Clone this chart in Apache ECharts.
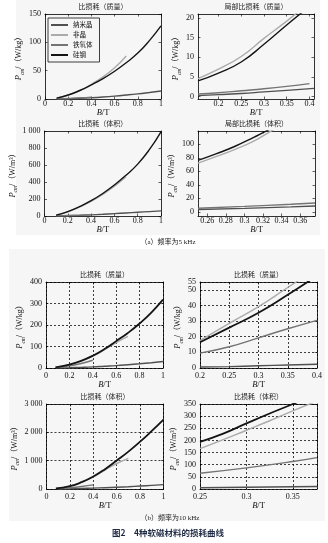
<!DOCTYPE html>
<html>
<head>
<meta charset="utf-8">
<script src="https://cdn.jsdelivr.net/npm/echarts@6/dist/echarts.min.js"></script>
<style>
  html, body { margin: 0; padding: 0; background: #fff; }
  #chart { width: 328px; height: 543px; }
</style>
</head>
<body>
<div id="chart"></div>
<script>
// Common flux-density grids (T)
const B_full = [0.1, 0.2, 0.3, 0.4, 0.5, 0.6, 0.7, 0.8, 0.9, 1.0];
const B_amorph = [0.1, 0.2, 0.3, 0.4, 0.5, 0.6, 0.7];
const B_ferrite = [0.1, 0.2, 0.3, 0.4];

// (a) 5 kHz, loss per mass, full range
const a1_nano = [0.15, 0.55, 1.2, 2.2, 3.5, 5.1, 7.0, 9.1, 11.5, 14];
const a1_amorph = [1.5, 7, 15, 26, 39, 55, 76];
const a1_ferrite = [0.3, 0.9, 1.9, 3.3];
const a1_si = [1.5, 7, 15, 25, 36, 49, 64, 81, 103, 129];

// (a) 5 kHz, loss per mass, 0.155–0.41 T
const a2_B_nano = [0.155, 0.2, 0.25, 0.3, 0.35, 0.41];
const a2_nano = [0.3, 0.5, 0.8, 1.2, 1.6, 2.1];
const a2_B_amorph = [0.155, 0.2, 0.25, 0.3, 0.35, 0.38];
const a2_amorph = [4.6, 7.0, 10.2, 14.8, 19.2, 22.0];
const a2_B_ferrite = [0.155, 0.2, 0.25, 0.3, 0.35, 0.4];
const a2_ferrite = [0.7, 1.0, 1.5, 2.0, 2.6, 3.3];
const a2_B_si = [0.155, 0.2, 0.25, 0.3, 0.35, 0.39];
const a2_si = [4.0, 6.0, 8.8, 13.3, 18.2, 22.0];

// (a) 5 kHz, loss per volume, full range
const a3_nano = [1, 3.5, 7.5, 13, 20, 28, 36, 44, 52, 60];
const a3_amorph = [10, 50, 105, 172, 255, 350, 462];
const a3_ferrite = [2, 6, 10, 15];
const a3_si = [10, 52, 110, 180, 265, 365, 480, 610, 780, 990];

// (a) 5 kHz, loss per volume, 0.25–0.376 T
const a4_B_low = [0.25, 0.3, 0.35, 0.376];
const a4_nano = [3.5, 5.3, 7.5, 8.8];
const a4_B_amorph = [0.25, 0.27, 0.29, 0.31, 0.33, 0.34];
const a4_amorph = [72, 82, 92.5, 104.5, 120.5, 128];
const a4_ferrite = [5.5, 8.2, 11.3, 13.2];
const a4_B_si = [0.25, 0.27, 0.29, 0.31, 0.32, 0.33];
const a4_si = [76, 86, 97, 110, 117, 124];

// (b) 10 kHz, loss per mass, full range
const b1_B_si = [0.08, 0.2, 0.3, 0.4, 0.5, 0.6, 0.7, 0.8, 0.9, 1.0];
const b1_si = [3, 16, 33, 57, 88, 125, 163, 207, 258, 318];
const b1_amorph = [4, 16, 32, 55, 85, 118, 147];
const b1_ferrite = [2.5, 10, 21, 36];
const b1_nano = [0.5, 1.5, 3, 5, 8, 11, 15, 19.5, 24.5, 30];

// (b) 10 kHz, loss per mass, 0.2–0.4 T
const b2_B = [0.2, 0.25, 0.3, 0.35, 0.4];
const b2_B_amorph = [0.2, 0.25, 0.3, 0.35, 0.375];
const b2_amorph = [17.5, 28.5, 39.2, 51.5, 57.5];
const b2_si = [16.5, 25.8, 35.3, 46.8, 59];
const b2_ferrite = [9.5, 13.6, 19.3, 25.1, 30.5];
const b2_nano = [0.6, 0.9, 1.4, 1.9, 2.4];

// (b) 10 kHz, loss per volume, full range
const b3_si = [20, 100, 240, 440, 700, 1005, 1320, 1670, 2050, 2450];
const b3_amorph = [25, 100, 235, 430, 670, 900, 1080];
const b3_ferrite = [10, 45, 90, 145];
const b3_nano = [3, 10, 20, 32, 45, 62, 82, 105, 128, 155];

// (b) 10 kHz, loss per volume, 0.25–0.376 T
const b4_B_si = [0.25, 0.275, 0.3, 0.325, 0.35, 0.36];
const b4_si = [194, 228, 270, 311, 350, 367];
const b4_B_amorph = [0.25, 0.275, 0.3, 0.325, 0.35, 0.376];
const b4_amorph = [166, 203, 242, 281, 322, 362];
const b4_B_low = [0.25, 0.3, 0.35, 0.376];
const b4_ferrite = [65, 87, 113, 129];
const b4_nano = [5, 7, 9, 10];

// Text
const materials = ['纳米晶', '非晶', '铁氧体', '硅钢'];
const titles = ['比损耗（质量）', '局部比损耗（质量）', '比损耗（体积）', '局部比损耗（体积）',
                '比损耗（质量）', '比损耗（质量）', '比损耗（体积）', '比损耗（体积）'];
const captionA = '（a）频率为5 kHz';
const captionB = '（b）频率为10 kHz';
const figCaption = '图2　4种软磁材料的损耗曲线';

const SERIF = '"Liberation Serif","Noto Sans CJK SC",serif';
const CJK = '"Noto Sans CJK SC",sans-serif';
const colors = { '纳米晶': '#505050', '非晶': '#ababab', '铁氧体': '#747474', '硅钢': '#141414' };

const zip = (xs, ys) => xs.map((x, i) => [x, ys[i]]);

// Plot panels: layout + axis ranges; curves are listed in drawing order
const panels = [
  { g: [45, 14, 116, 85], x: [0, 1, 0.2, 1, 1], y: [0, 150, 50, 1, 1], unit: 'kg', dashed: false, yGap: 14,
    s: [['纳米晶', B_full, a1_nano], ['非晶', B_amorph, a1_amorph], ['铁氧体', B_ferrite, a1_ferrite], ['硅钢', B_full, a1_si]] },
  { g: [198, 14, 116, 85], x: [0.155, 0.41, 0.05, 0, 0], y: [-0.6, 21, 5, 0, 0], unit: 'kg', dashed: false, yGap: 9.5,
    s: [['纳米晶', a2_B_nano, a2_nano], ['非晶', a2_B_amorph, a2_amorph], ['铁氧体', a2_B_ferrite, a2_ferrite], ['硅钢', a2_B_si, a2_si]] },
  { g: [44.5, 131, 116.5, 85], x: [0, 1, 0.2, 1, 1], y: [0, 1000, 200, 1, 1], unit: 'm3', dashed: false, yGap: 14.5,
    s: [['纳米晶', B_full, a3_nano], ['非晶', B_amorph, a3_amorph], ['铁氧体', B_ferrite, a3_ferrite], ['硅钢', B_full, a3_si]] },
  { g: [198, 131, 117, 85], x: [0.25, 0.376, 0.02, 0, 0], y: [-6, 119.5, 20, 0, 0], unit: 'm3', dashed: false, yGap: 9.5,
    s: [['纳米晶', a4_B_low, a4_nano], ['非晶', a4_B_amorph, a4_amorph], ['铁氧体', a4_B_low, a4_ferrite], ['硅钢', a4_B_si, a4_si]] },
  { g: [46, 282, 117, 86], x: [0, 1, 0.2, 1, 1], y: [0, 400, 100, 1, 1], unit: 'kg', dashed: true, yGap: 18,
    s: [['纳米晶', B_full, b1_nano], ['非晶', B_amorph, b1_amorph], ['铁氧体', B_ferrite, b1_ferrite], ['硅钢', b1_B_si, b1_si]] },
  { g: [200, 282, 117, 86], x: [0.2, 0.4, 0.05, 1, 1], y: [0, 55, 10, 1, 1], unit: 'kg', dashed: true, yGap: 14,
    s: [['纳米晶', b2_B, b2_nano], ['非晶', b2_B_amorph, b2_amorph], ['铁氧体', b2_B, b2_ferrite], ['硅钢', b2_B, b2_si]] },
  { g: [46.5, 404, 117, 85], x: [0, 1, 0.2, 1, 1], y: [0, 3000, 1000, 1, 1], unit: 'm3', dashed: true, yGap: 18.5,
    s: [['纳米晶', B_full, b3_nano], ['非晶', B_amorph, b3_amorph], ['铁氧体', B_ferrite, b3_ferrite], ['硅钢', b1_B_si, b3_si]] },
  { g: [200, 404, 117, 85], x: [0.25, 0.376, 0.05, 1, 0], y: [0, 350, 50, 1, 1], unit: 'm3', dashed: true, yGap: 14,
    s: [['纳米晶', b4_B_low, b4_nano], ['非晶', b4_B_amorph, b4_amorph], ['铁氧体', b4_B_low, b4_ferrite], ['硅钢', b4_B_si, b4_si]] }
];

const yFormatter = v => {
  if (Math.abs(v) >= 1000) {
    return Math.floor(v / 1000) + ' ' + String(Math.round(v % 1000)).padStart(3, '0');
  }
  return String(v);
};

const yNameRich = {
  p: { fontFamily: SERIF, fontStyle: 'italic', fontSize: 8.5, color: '#111', lineHeight: 12, verticalAlign: 'middle' },
  s: { fontFamily: SERIF, fontStyle: 'italic', fontSize: 5.5, color: '#111', lineHeight: 12, verticalAlign: 'bottom' },
  t: { fontFamily: SERIF, fontSize: 8, color: '#111', lineHeight: 12, verticalAlign: 'middle' }
};
const xNameRich = {
  i: { fontFamily: SERIF, fontStyle: 'italic', fontSize: 8.5, color: '#111' },
  t: { fontFamily: SERIF, fontSize: 8.5, color: '#111' }
};

const grids = [], xAxes = [], yAxes = [], series = [], graphics = [];

// Figure panel backgrounds
graphics.push({ type: 'rect', z: -10, shape: { x: 16, y: 0, width: 304, height: 235 }, style: { fill: '#f6f6f6' } });
graphics.push({ type: 'rect', z: -10, shape: { x: 9, y: 249, width: 316, height: 272 }, style: { fill: '#f6f6f6' } });

const axisLineStyle = { color: '#000', width: 0.8 };
const dashStyle = { color: '#000', width: 0.75, type: [2, 2] };

panels.forEach((p, i) => {
  const [left, top, width, height] = p.g;
  const isB = p.dashed;
  grids.push({ left, top, width, height, containLabel: false });

  const common = (cfg) => ({
    type: 'value', gridIndex: i, min: cfg[0], max: cfg[1],
    minInterval: cfg[2], maxInterval: cfg[2],
    splitNumber: Math.max(1, Math.round((cfg[1] - cfg[0]) / cfg[2])),
    axisLine: { show: true, onZero: false, lineStyle: axisLineStyle },
    axisTick: { show: true, inside: true, length: 2.5, lineStyle: { color: '#000', width: 0.6 } }
  });

  xAxes.push(Object.assign(common(p.x), {
    position: 'bottom',
    axisLabel: { fontFamily: SERIF, fontSize: 8, color: '#111', margin: isB ? 4 : 1,
                 showMinLabel: !!p.x[3], showMaxLabel: !!p.x[4] },
    splitLine: { show: isB, lineStyle: dashStyle },
    name: '{i|B}{t|/T}', nameLocation: 'middle', nameGap: isB ? 11 : 7,
    nameTextStyle: { rich: xNameRich }
  }));
  xAxes.push(Object.assign(common(p.x), {
    position: 'top', axisLabel: { show: false }, splitLine: { show: false }
  }));

  yAxes.push(Object.assign(common(p.y), {
    position: 'left',
    axisLabel: { fontFamily: SERIF, fontSize: 8, color: '#111', margin: 4, formatter: yFormatter,
                 showMinLabel: !!p.y[3], showMaxLabel: !!p.y[4] },
    splitLine: { show: isB, lineStyle: dashStyle },
    name: p.unit === 'kg' ? '{p|P}{s|cm}{t|/（W/kg）}' : '{p|P}{s|cm}{t|/（W/m³）}',
    nameLocation: 'middle', nameGap: p.yGap,
    nameTextStyle: { rich: yNameRich }
  }));
  yAxes.push(Object.assign(common(p.y), {
    position: 'right', axisLabel: { show: false }, splitLine: { show: false }
  }));

  p.s.forEach(([name, xs, ys]) => {
    series.push({
      type: 'line', name, xAxisIndex: 2 * i, yAxisIndex: 2 * i,
      data: zip(xs, ys), smooth: true, showSymbol: false, symbol: 'none', clip: true,
      lineStyle: { color: colors[name], width: name === '硅钢' && isB ? 1.8 : 1.4 },
      itemStyle: { color: colors[name] },
      emphasis: { disabled: true }, silent: true
    });
  });

  // Plot title
  graphics.push({
    type: 'text', x: left + width / 2, y: top - 8,
    style: { text: titles[i], align: 'center', verticalAlign: 'middle',
             font: '7px ' + CJK, fill: '#222' }
  });
});

// Sub-figure and figure captions
graphics.push({ type: 'text', x: 168, y: 242, style: { text: captionA, align: 'center', verticalAlign: 'middle', font: '7px ' + SERIF, fill: '#222' } });
graphics.push({ type: 'text', x: 170, y: 518, style: { text: captionB, align: 'center', verticalAlign: 'middle', font: '7px ' + SERIF, fill: '#222' } });
graphics.push({ type: 'text', x: 168, y: 533, style: { text: figCaption, align: 'center', verticalAlign: 'middle', font: 'bold 8.5px ' + CJK, fill: '#1e2a44' } });

const chart = echarts.init(document.getElementById('chart'), null, { renderer: 'canvas' });
chart.setOption({
  backgroundColor: '#fff',
  animation: false,
  textStyle: { fontFamily: SERIF },
  grid: grids,
  xAxis: xAxes,
  yAxis: yAxes,
  series,
  legend: {
    data: materials, left: 48, top: 18, orient: 'vertical',
    icon: 'rect', itemWidth: 17, itemHeight: 2, itemGap: 2,
    padding: [3, 7, 3, 3], borderColor: '#111', borderWidth: 0.8,
    selectedMode: false,
    textStyle: { fontFamily: CJK, fontSize: 6.5, lineHeight: 8, color: '#111' }
  },
  graphic: graphics
});
</script>
</body>
</html>
